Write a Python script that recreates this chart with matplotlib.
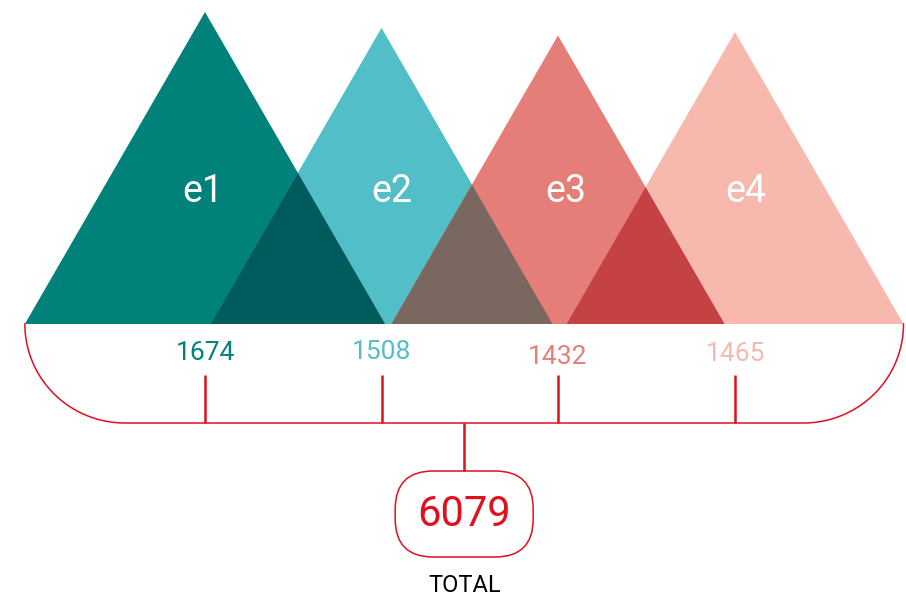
import numpy as np
import matplotlib.pyplot as plt
from matplotlib.patches import Polygon, FancyBboxPatch

plt.rcParams['font.family'] = ['Roboto', 'DejaVu Sans']

names = ['e1', 'e2', 'e3', 'e4']
values = [1674, 1508, 1432, 1465]
total = 6079
colors = ['#00817a', '#52bec8', '#e57e78', '#f7b8ae']
overlap_colors = ['#005b5c', '#7a675f', '#c44244']
red = '#e0101e'

centers = [205, 381.5, 558, 735]
name_x = [203, 392, 566, 746]
base_y = 324
k = 312 / np.sqrt(max(values))
t = np.tan(np.radians(30))

fig = plt.figure(figsize=(9.06, 5.99), dpi=100)
ax = fig.add_axes([0, 0, 1, 1])
ax.set_xlim(0, 906)
ax.set_ylim(599, 0)
ax.axis('off')

tri = []
for c, v, col in zip(centers, values, colors):
    h = k * np.sqrt(v)
    left, right = c - h * t, c + h * t
    tri.append((left, right))
    ax.add_patch(Polygon([[left, base_y], [c, base_y - h], [right, base_y]],
                         closed=True, fc=col, ec='none'))

for i, col in enumerate(overlap_colors):
    l2 = tri[i + 1][0]
    r1 = tri[i][1]
    mid = (l2 + r1) / 2
    h = (r1 - l2) / 2 / t
    ax.add_patch(Polygon([[l2, base_y], [mid, base_y - h], [r1, base_y]],
                         closed=True, fc=col, ec='none'))

for x, n in zip(name_x, names):
    ax.text(x, 191, n, color='white', fontsize=27, ha='center', va='center')

label_y = [353, 352, 357, 354]
for c, v, col, y in zip(centers, values, colors, label_y):
    ax.text(c, y, str(v), color=col, fontsize=19, ha='center', va='center')
    ax.plot([c, c], [375, 423], color=red, lw=1.8, solid_capstyle='butt')

# bracket
left_x, right_x, bot = tri[0][0], tri[-1][1], 423
r = 100
th = np.linspace(np.pi, np.pi / 2, 40)
lx = left_x + r + r * np.cos(th)
ly = base_y + r * np.sin(th) * 0.99
th2 = np.linspace(np.pi / 2, 0, 40)
rx = right_x - r + r * np.cos(th2)
ry = base_y + r * np.sin(th2) * 0.99
ax.plot(np.concatenate([lx, rx]), np.concatenate([ly, ry]), color=red, lw=1.1)

cx = (left_x + right_x) / 2
ax.plot([cx, cx], [423, 471], color=red, lw=1.8, solid_capstyle='butt')
ax.add_patch(FancyBboxPatch((cx - 69 + 38, 471 + 38), 138 - 76, 86 - 76,
                            boxstyle='round,pad=38', fc='white', ec=red, lw=1.1))
ax.text(cx, 515, str(total), color=red, fontsize=30, ha='center', va='center')
ax.text(cx, 585, 'TOTAL', color='black', fontsize=17, ha='center', va='center')

fig.savefig('out.png', dpi=100)
